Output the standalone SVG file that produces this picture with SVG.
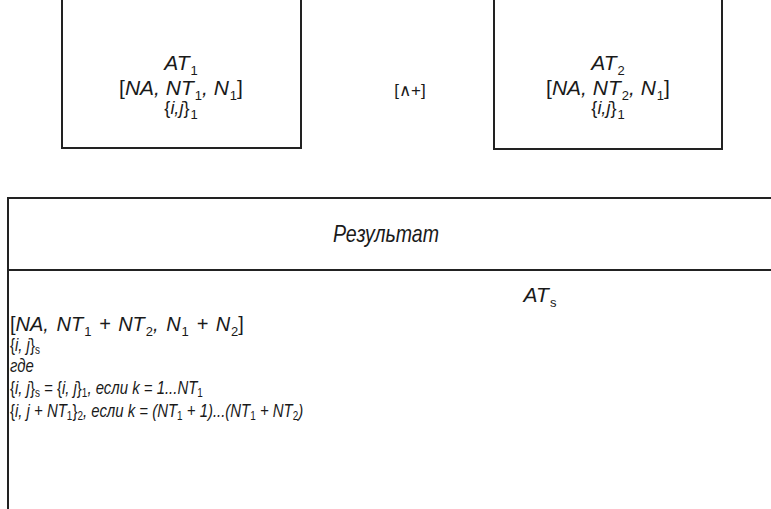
<svg xmlns="http://www.w3.org/2000/svg" width="771" height="509" viewBox="0 0 771 509">
<style>
.t{font-family:"Liberation Sans",Arial,sans-serif;font-size:21px;fill:#1a1a1a;font-style:italic}
.n{font-style:normal}
.s{font-size:13px;font-style:normal}
.c{font-size:18px}
.box{fill:#fff;stroke:#222;stroke-width:2}
.ln{stroke:#222;stroke-width:2;fill:none}
.k{font-size:20px}
.q{font-size:18px}
.qs{font-size:12px;font-style:normal}
</style>
<rect width="771" height="509" fill="#fff"/>
<g id="at1">
<rect class="box" x="62" y="-4" width="239" height="152"/>
<text class="t" x="181" y="70" text-anchor="middle">AT<tspan class="s" dy="5" dx="1">1</tspan></text>
<text class="t" x="181" y="95" text-anchor="middle"><tspan class="n">[</tspan>NA, NT<tspan class="s" dy="5" dx="1">1</tspan><tspan dy="-5">, N</tspan><tspan class="s" dy="5" dx="1">1</tspan><tspan class="n" dy="-5">]</tspan></text>
<text class="t c" x="181" y="114" text-anchor="middle"><tspan class="n">{</tspan>i,j<tspan class="n">}</tspan><tspan class="s" dy="5" dx="1">1</tspan></text>
</g>
<g id="op">
<text class="t n" x="410" y="96" text-anchor="middle" style="font-size:17px">[∧+]</text>
</g>
<g id="at2">
<rect class="box" x="494" y="-4" width="228" height="153"/>
<text class="t" x="608" y="70" text-anchor="middle">AT<tspan class="s" dy="5" dx="1">2</tspan></text>
<text class="t" x="608" y="95" text-anchor="middle"><tspan class="n">[</tspan>NA, NT<tspan class="s" dy="5" dx="1">2</tspan><tspan dy="-5">, N</tspan><tspan class="s" dy="5" dx="1">1</tspan><tspan class="n" dy="-5">]</tspan></text>
<text class="t c" x="608" y="114" text-anchor="middle"><tspan class="n">{</tspan>i,j<tspan class="n">}</tspan><tspan class="s" dy="5" dx="1">1</tspan></text>
</g>
<g id="result">
<rect class="box" x="8" y="198" width="780" height="330"/>
<line class="ln" x1="8" y1="270" x2="771" y2="270"/>
<text class="t" transform="translate(386,242) scale(0.85,1)" text-anchor="middle" style="font-size:23px">Результат</text>
<text class="t" x="540" y="302" text-anchor="middle">AT<tspan class="s" dy="5" dx="1">s</tspan></text>
<text class="t k" x="10" y="331" style="word-spacing:2px"><tspan class="n">[</tspan>NA, NT<tspan class="s" dy="5" dx="1">1</tspan><tspan dy="-5"> + NT</tspan><tspan class="s" dy="5" dx="1">2</tspan><tspan dy="-5">, N</tspan><tspan class="s" dy="5" dx="1">1</tspan><tspan dy="-5"> + N</tspan><tspan class="s" dy="5" dx="1">2</tspan><tspan class="n" dy="-5">]</tspan></text>
<g transform="translate(10,0) scale(0.83,1)">
<text class="t q" x="0" y="351"><tspan class="n">{</tspan>i, j<tspan class="n">}</tspan><tspan class="qs" dy="3">s</tspan></text>
<text class="t q" x="0" y="372">где</text>
<text class="t q" x="0" y="394"><tspan class="n">{</tspan>i, j<tspan class="n">}</tspan><tspan class="qs" dy="3">s</tspan><tspan dy="-3"> = </tspan><tspan class="n">{</tspan>i, j<tspan class="n">}</tspan><tspan class="qs" dy="3">1</tspan><tspan dy="-3">, если k = 1...NT</tspan><tspan class="qs" dy="3">1</tspan></text>
<text class="t q" x="0" y="417"><tspan class="n">{</tspan>i, j + NT<tspan class="qs" dy="3">1</tspan><tspan class="n" dy="-3">}</tspan><tspan class="qs" dy="3">2</tspan><tspan dy="-3">, если k = (NT</tspan><tspan class="qs" dy="3">1</tspan><tspan dy="-3"> + 1)...(NT</tspan><tspan class="qs" dy="3">1</tspan><tspan dy="-3"> + NT</tspan><tspan class="qs" dy="3">2</tspan><tspan dy="-3">)</tspan></text>
</g>
</g>
</svg>
